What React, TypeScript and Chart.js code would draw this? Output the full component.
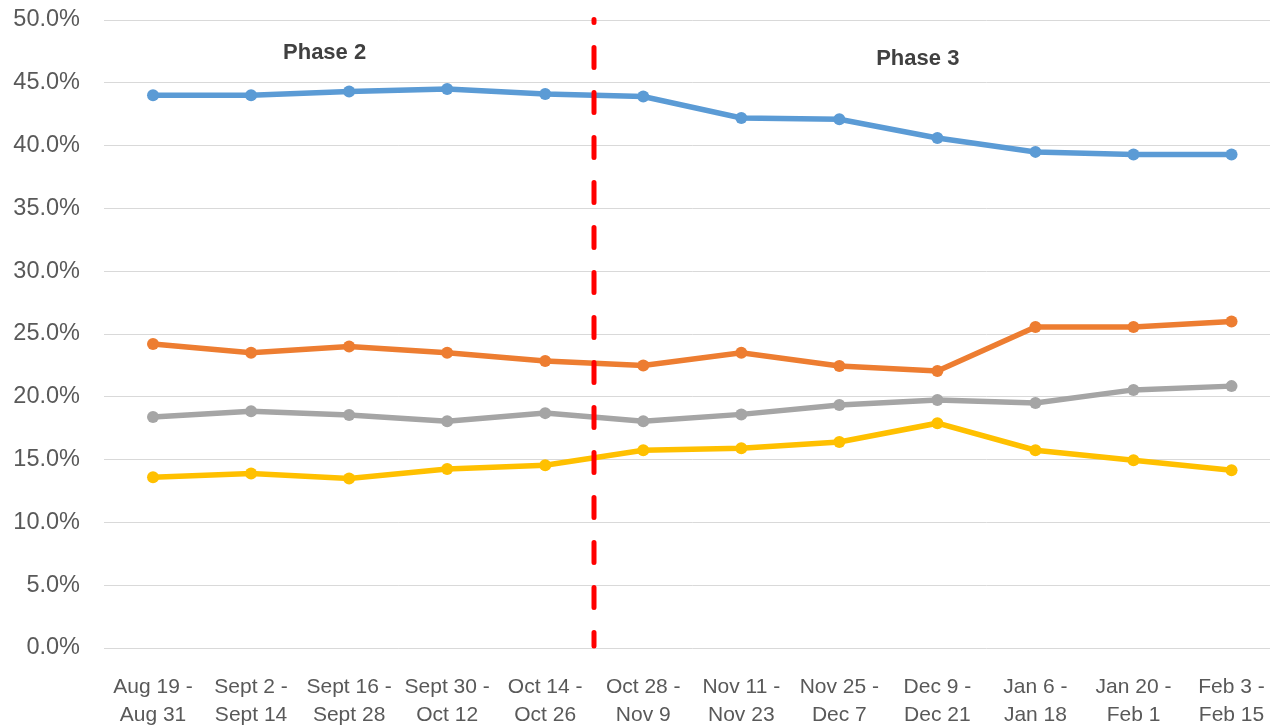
import React, { useEffect, useRef } from "react";
import { Chart, registerables } from "chart.js";

Chart.register(...registerables);

const categories: string[][] = [
  ["Aug 19 -", "Aug 31"],
  ["Sept 2 -", "Sept 14"],
  ["Sept 16 -", "Sept 28"],
  ["Sept 30 -", "Oct 12"],
  ["Oct 14 -", "Oct 26"],
  ["Oct 28 -", "Nov 9"],
  ["Nov 11 -", "Nov 23"],
  ["Nov 25 -", "Dec 7"],
  ["Dec 9 -", "Dec 21"],
  ["Jan 6 -", "Jan 18"],
  ["Jan 20 -", "Feb 1"],
  ["Feb 3 -", "Feb 15"],
];

const blueSeries = [44.0, 44.0, 44.3, 44.5, 44.1, 43.9, 42.2, 42.1, 40.6, 39.5, 39.3, 39.3];
const orangeSeries = [24.2, 23.5, 24.0, 23.5, 22.85, 22.5, 23.5, 22.45, 22.05, 25.55, 25.55, 26.0];
const graySeries = [18.4, 18.85, 18.55, 18.05, 18.7, 18.05, 18.6, 19.35, 19.75, 19.5, 20.55, 20.85];
const yellowSeries = [13.6, 13.9, 13.5, 14.25, 14.55, 15.75, 15.9, 16.4, 17.9, 15.75, 14.95, 14.15];

const yTicks = [0, 5, 10, 15, 20, 25, 30, 35, 40, 45, 50];

const phaseLabels = [
  { text: "Phase 2", x: 1.75, y: 47.4 },
  { text: "Phase 3", x: 7.8, y: 46.9 },
];
const phaseDividerIndex = 4.5;

const FONT = '"Liberation Sans", Arial, sans-serif';

const overlayPlugin = {
  id: "overlay",
  afterDatasetsDraw(chart: any) {
    const { ctx, scales, chartArea } = chart;
    const xs = scales.x;
    const ys = scales.y;
    const px = Math.round(xs.getPixelForValue(phaseDividerIndex));
    ctx.save();
    ctx.strokeStyle = "#FF0000";
    ctx.lineWidth = 5;
    ctx.lineCap = "round";
    ctx.setLineDash([20, 25]);
    ctx.lineDashOffset = 17;
    ctx.beginPath();
    ctx.moveTo(px, 19.5);
    ctx.lineTo(px, chartArea.bottom - 2);
    ctx.stroke();
    ctx.restore();
    ctx.save();
    ctx.fillStyle = "#404040";
    ctx.font = "bold 22px " + FONT;
    ctx.textAlign = "center";
    ctx.textBaseline = "middle";
    for (const p of phaseLabels) {
      ctx.fillText(p.text, xs.getPixelForValue(p.x), ys.getPixelForValue(p.y));
    }
    ctx.restore();
  },
};

function makeDataset(label: string, data: number[], color: string) {
  return {
    label,
    data,
    borderColor: color,
    backgroundColor: color,
    borderWidth: 5.5,
    pointRadius: 6,
    pointHoverRadius: 6,
    pointBorderWidth: 0,
    pointBackgroundColor: color,
    tension: 0,
    fill: false,
  };
}

export default function App() {
  const canvasRef = useRef<HTMLCanvasElement | null>(null);

  useEffect(() => {
    if (!canvasRef.current) return;
    const chart = new Chart(canvasRef.current, {
      type: "line",
      data: {
        labels: categories,
        datasets: [
          makeDataset("Blue", blueSeries, "#5B9BD5"),
          makeDataset("Orange", orangeSeries, "#ED7D31"),
          makeDataset("Gray", graySeries, "#A5A5A5"),
          makeDataset("Yellow", yellowSeries, "#FFC000"),
        ],
      },
      options: {
        animation: false,
        responsive: false,
        devicePixelRatio: 1,
        layout: { autoPadding: false, padding: { top: 20, right: 5, left: 0, bottom: 0 } },
        plugins: {
          legend: { display: false },
          tooltip: { enabled: false },
        },
        scales: {
          x: {
            offset: true,
            grid: { display: false, drawTicks: false },
            border: { display: false },
            ticks: {
              color: "#595959",
              font: { family: FONT, size: 21, lineHeight: 1.33 },
              padding: 25,
              maxRotation: 0,
              autoSkip: false,
            },
            afterFit(scale: any) {
              scale.height = 80;
            },
          },
          y: {
            min: 0,
            max: 50,
            afterBuildTicks(scale: any) {
              scale.ticks = yTicks.map((v) => ({ value: v }));
            },
            grid: {
              color: "#D9D9D9",
              lineWidth: 1,
              drawTicks: true,
              tickLength: 24,
              tickColor: "rgba(0,0,0,0)",
            },
            border: { display: false },
            ticks: {
              color: "#595959",
              font: { family: FONT, size: 23.5 },
              padding: 0,
              callback: (v: any) => Number(v).toFixed(1) + "%",
            },
            afterFit(scale: any) {
              scale.width = 104;
            },
          },
        },
      },
      plugins: [overlayPlugin],
    });
    return () => chart.destroy();
  }, []);

  return (
    <div
      style={{
        position: "fixed",
        left: 0,
        top: 0,
        width: 1270,
        height: 728,
        overflow: "hidden",
        background: "#ffffff",
      }}
    >
      <canvas ref={canvasRef} width={1290} height={728} style={{ width: 1290, height: 728, display: "block" }} />
    </div>
  );
}
